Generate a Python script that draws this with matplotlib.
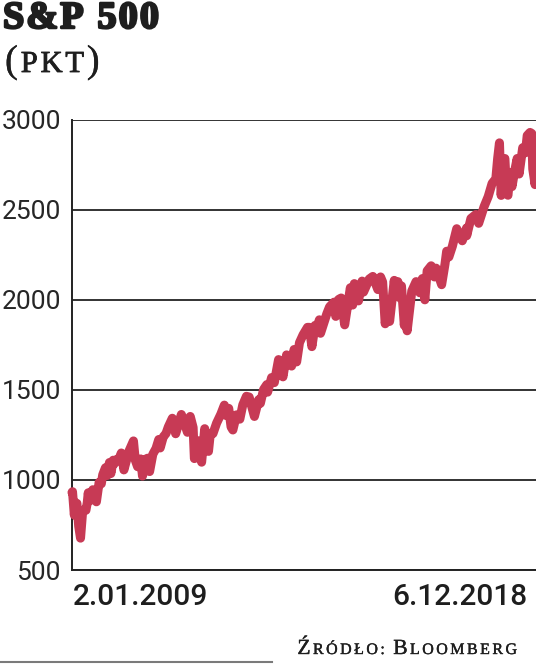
import matplotlib
matplotlib.use("Agg")
import matplotlib.pyplot as plt
import matplotlib.patheffects as pe
from matplotlib.offsetbox import TextArea, HPacker, AnchoredOffsetbox
from matplotlib.lines import Line2D
import pandas as pd

# ---- data ----
dates = [
    "2009-01-02", "2009-01-06", "2009-01-20", "2009-01-28", "2009-02-09", "2009-02-23", "2009-03-09",
    "2009-03-26", "2009-04-20", "2009-04-30", "2009-05-08", "2009-05-15", "2009-06-12", "2009-06-23",
    "2009-07-10", "2009-07-31", "2009-08-17", "2009-08-28", "2009-09-18", "2009-10-02", "2009-10-19",
    "2009-10-30", "2009-11-17", "2009-11-27", "2009-12-14", "2009-12-31",
    "2010-01-19", "2010-02-08", "2010-02-26", "2010-03-19", "2010-04-23", "2010-05-07", "2010-05-25",
    "2010-06-18", "2010-07-02", "2010-07-26", "2010-08-10", "2010-08-26", "2010-09-20", "2010-10-15",
    "2010-11-05", "2010-11-16", "2010-12-10", "2010-12-31",
    "2011-01-18", "2011-02-18", "2011-03-16", "2011-04-29", "2011-05-13", "2011-06-15", "2011-07-07",
    "2011-07-29", "2011-08-08", "2011-08-19", "2011-08-31", "2011-09-22", "2011-10-03", "2011-10-27",
    "2011-11-25", "2011-12-09", "2011-12-30",
    "2012-01-27", "2012-02-29", "2012-03-27", "2012-04-10", "2012-04-30", "2012-05-18", "2012-06-01",
    "2012-06-29", "2012-07-25", "2012-08-17", "2012-09-14", "2012-10-05", "2012-11-15", "2012-12-18",
    "2012-12-31",
    "2013-01-25", "2013-02-19", "2013-02-25", "2013-03-28", "2013-04-18", "2013-05-21", "2013-06-24",
    "2013-07-22", "2013-08-30", "2013-09-18", "2013-10-08", "2013-10-30", "2013-11-27", "2013-12-31",
    "2014-01-15", "2014-02-03", "2014-02-28", "2014-03-14", "2014-04-02", "2014-04-11", "2014-05-30",
    "2014-06-20", "2014-07-24", "2014-08-07", "2014-08-29", "2014-09-18", "2014-10-15", "2014-11-28",
    "2014-12-16", "2014-12-29",
    "2015-01-16", "2015-01-30", "2015-02-27", "2015-03-10", "2015-04-24", "2015-05-21", "2015-06-29",
    "2015-07-20", "2015-08-05", "2015-08-25", "2015-09-04", "2015-09-16", "2015-09-28", "2015-10-30",
    "2015-11-03", "2015-11-13", "2015-12-01", "2015-12-14", "2015-12-29",
    "2016-01-20", "2016-01-29", "2016-02-11", "2016-03-18", "2016-04-20", "2016-05-19", "2016-06-08",
    "2016-06-27", "2016-07-15", "2016-08-15", "2016-09-09", "2016-09-22", "2016-11-04", "2016-11-30",
    "2016-12-13", "2016-12-30",
    "2017-01-26", "2017-03-01", "2017-04-13", "2017-05-16", "2017-05-17", "2017-06-19", "2017-07-27",
    "2017-08-18", "2017-09-29", "2017-10-31", "2017-11-30", "2017-12-29",
    "2018-01-12", "2018-01-26", "2018-02-08", "2018-02-26", "2018-03-09", "2018-03-23", "2018-04-02",
    "2018-04-18", "2018-05-03", "2018-05-25", "2018-06-12", "2018-06-27", "2018-07-25", "2018-08-15",
    "2018-08-29", "2018-09-20", "2018-10-03", "2018-10-11", "2018-10-29", "2018-11-07", "2018-11-23",
    "2018-12-03", "2018-12-06",
]
values = [
    931, 935, 805, 874, 870, 743, 677,
    832, 832, 873, 929, 882, 946, 895,
    879, 987, 979, 1029, 1068, 1025, 1097,
    1036, 1110, 1091, 1114, 1115,
    1150, 1056, 1104, 1160, 1217, 1111, 1074,
    1117, 1022, 1115, 1121, 1047, 1143, 1176,
    1225, 1178, 1240, 1258,
    1295, 1343, 1257, 1364, 1338, 1265, 1353,
    1292, 1119, 1124, 1219, 1129, 1099, 1285,
    1159, 1255, 1258,
    1316, 1366, 1416, 1358, 1398, 1295, 1278,
    1362, 1338, 1418, 1465, 1461, 1353, 1446,
    1426,
    1503, 1530, 1488, 1569, 1541, 1669, 1573,
    1695, 1633, 1725, 1656, 1763, 1807, 1848,
    1848, 1741, 1859, 1841, 1890, 1815, 1924,
    1962, 1988, 1909, 2003, 2011, 1862, 2068,
    1972, 2091,
    2019, 1995, 2105, 2044, 2117, 2131, 2058,
    2128, 2100, 1868, 1921, 1996, 1881, 2079,
    2109, 2023, 2102, 2013, 2078,
    1859, 1940, 1829, 2050, 2102, 2040, 2119,
    2001, 2162, 2190, 2128, 2177, 2085, 2199,
    2271, 2239,
    2298, 2396, 2329, 2400, 2357, 2453, 2475,
    2426, 2519, 2575, 2648, 2674,
    2786, 2873, 2581, 2780, 2786, 2588, 2582,
    2708, 2630, 2721, 2786, 2700, 2846, 2818,
    2914, 2931, 2925, 2728, 2641, 2814, 2633,
    2790, 2695,
]
y_ticks = [500, 1000, 1500, 2000, 2500, 3000]
start_label = "2.01.2009"
end_label = "6.12.2018"
title = "S&P 500"
unit = "(PKT)"
source = "Źródło: Bloomberg"

SERIF = ["Liberation Serif", "DejaVu Serif"]
INK = "#1e1e1e"

# ---- figure ----
W, H = 536, 664
fig = plt.figure(figsize=(W / 100, H / 100), dpi=100)
fig.patch.set_facecolor("white")

ax = fig.add_axes([72 / W, 94 / H, 468 / W, 450 / H])
x = pd.to_datetime(dates)
ax.plot(x, values, color="#C73A55", lw=6.5, solid_capstyle="round",
        solid_joinstyle="round", clip_on=False, zorder=3)

ax.set_ylim(500, 3000)
ax.set_xlim(pd.Timestamp("2009-01-02"), pd.Timestamp("2018-12-06"))
ax.set_yticks(y_ticks)
ax.set_yticklabels([str(v) for v in y_ticks], family="Roboto", fontsize=19,
                   color="#262626")
ax.tick_params(axis="y", length=0, pad=8)
ax.set_xticks([])
for v in y_ticks:
    ax.axhline(v, color="#333333", lw=1.4, zorder=1)
for s in ["top", "right"]:
    ax.spines[s].set_visible(False)
for s in ["left", "bottom"]:
    ax.spines[s].set_color("#222222")
    ax.spines[s].set_linewidth(1.4)

# date labels
fig.text(73 / W, 1 - 605 / H, start_label, family="Roboto", fontsize=21.5,
         fontweight="medium", color=INK, ha="left", va="baseline")
fig.text(527 / W, 1 - 605 / H, end_label, family="Roboto", fontsize=21.5,
         fontweight="medium", color=INK, ha="right", va="baseline")


def spaced(items, sep, anchor, loc, weight="normal"):
    boxes = [TextArea(t, textprops=dict(family=SERIF, fontsize=s, color=INK,
                                        fontweight=weight,
                                        path_effects=[pe.withStroke(linewidth=lw, foreground=INK)]))
             for t, s, lw in items]
    pack = HPacker(children=boxes, align="baseline", pad=0, sep=sep)
    box = AnchoredOffsetbox(loc=loc, child=pack, pad=0, frameon=False,
                            bbox_to_anchor=anchor, bbox_transform=fig.transFigure,
                            borderpad=0)
    fig.add_artist(box)


# title (emboldened, slightly letter-spaced serif)
title_items = [(c, 27.5, 1.8) for c in title]
spaced(title_items, 1.5, (3 / W, 1 - 36 / H), "lower left", weight="bold")

# unit "(PKT)" with wide letters
unit_items = [(unit[0], 28, 0.2)] + [(c, 22, 0.6) for c in unit[1:-1]] + [(unit[-1], 28, 0.2)]
spaced(unit_items, 2, (5 / W, 1 - 81 / H), "lower left")

# source line in small caps
src_items = []
for word in source.split(" "):
    if src_items:
        src_items.append((" ", 10, 0.1))
    for i, c in enumerate(word):
        if i == 0:
            src_items.append((c.upper(), 15.5, 0.3))
        else:
            src_items.append((c.upper(), 11.5, 0.3))
spaced(src_items, 1.8, (517 / W, 1 - 659 / H), "lower right")

# thin page rule at the bottom
fig.add_artist(Line2D([0, 272 / W], [1 - 661.5 / H] * 2, transform=fig.transFigure,
                      color="#7a7a7a", lw=1.5))

fig.savefig("out.png", dpi=100)
